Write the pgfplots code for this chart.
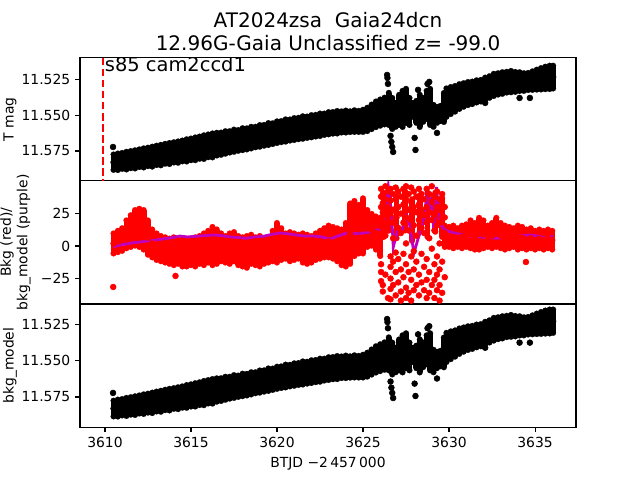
\documentclass[border=0pt]{standalone}
\usepackage{fontspec}
\setmainfont{DejaVu Sans}
\usepackage{pgfplots}
\usepackage{pgfplotstable}
\pgfplotsset{compat=1.18}
\definecolor{mplm}{rgb}{0.75,0,0.75}

% light curve band: centre mag and half spread
\pgfplotstableread{
x y e
3610.50 11.5829 0.0054
3610.75 11.5826 0.0058
3611.00 11.5820 0.0056
3611.25 11.5818 0.0062
3611.50 11.5811 0.0060
3611.75 11.5809 0.0064
3612.00 11.5801 0.0062
3612.25 11.5799 0.0067
3612.50 11.5792 0.0065
3612.75 11.5790 0.0070
3613.00 11.5781 0.0068
3613.25 11.5779 0.0072
3613.50 11.5770 0.0070
3613.75 11.5768 0.0074
3614.00 11.5760 0.0071
3614.25 11.5758 0.0075
3614.50 11.5750 0.0073
3614.75 11.5746 0.0078
3615.00 11.5739 0.0076
3615.25 11.5735 0.0080
3615.50 11.5727 0.0078
3615.75 11.5723 0.0083
3616.00 11.5714 0.0080
3616.25 11.5711 0.0084
3616.50 11.5702 0.0080
3616.75 11.5699 0.0078
3617.00 11.5690 0.0079
3617.25 11.5686 0.0075
3617.50 11.5678 0.0078
3617.75 11.5676 0.0073
3618.00 11.5667 0.0077
3618.25 11.5665 0.0074
3618.50 11.5656 0.0076
3618.75 11.5652 0.0072
3619.00 11.5644 0.0076
3619.25 11.5640 0.0073
3619.50 11.5631 0.0077
3619.75 11.5628 0.0073
3620.00 11.5618 0.0076
3620.25 11.5614 0.0074
3620.50 11.5606 0.0078
3620.75 11.5603 0.0074
3621.00 11.5596 0.0077
3621.25 11.5592 0.0075
3621.50 11.5585 0.0079
3621.75 11.5583 0.0075
3622.00 11.5576 0.0078
3622.25 11.5572 0.0076
3622.50 11.5566 0.0079
3622.75 11.5562 0.0075
3623.00 11.5555 0.0078
3623.25 11.5552 0.0076
3623.50 11.5548 0.0079
3623.75 11.5546 0.0074
3624.00 11.5543 0.0077
3624.25 11.5544 0.0073
3624.50 11.5540 0.0076
3624.75 11.5542 0.0074
3625.00 11.5538 0.0078
3625.25 11.5528 0.0082
3625.50 11.5510 0.0086
3625.75 11.5492 0.0090
3626.00 11.5480 0.0092
3626.25 11.5469 0.0094
3626.50 11.5454 0.0113
3626.70 11.5486 0.0109
3626.90 11.5496 0.0084
3627.10 11.5461 0.0106
3627.30 11.5454 0.0127
3627.50 11.5433 0.0120
3627.70 11.5472 0.0095
3627.90 11.5461 0.0049
3628.10 11.5475 0.0077
3628.30 11.5468 0.0113
3628.50 11.5461 0.0084
3628.70 11.5426 0.0099
3628.90 11.5440 0.0127
3629.10 11.5503 0.0077
3629.30 11.5496 0.0056
3629.50 11.5486 0.0053
3629.70 11.5444 0.0102
3629.85 11.5410 0.0100
3630.10 11.5395 0.0095
3630.35 11.5383 0.0090
3630.60 11.5367 0.0087
3630.85 11.5356 0.0083
3631.10 11.5346 0.0081
3631.35 11.5341 0.0079
3631.60 11.5331 0.0078
3631.85 11.5326 0.0076
3632.10 11.5312 0.0078
3632.35 11.5300 0.0076
3632.60 11.5285 0.0078
3632.85 11.5278 0.0075
3633.10 11.5272 0.0076
3633.35 11.5266 0.0073
3633.60 11.5262 0.0075
3633.85 11.5264 0.0070
3634.10 11.5262 0.0066
3634.35 11.5265 0.0062
3634.60 11.5261 0.0060
3634.85 11.5255 0.0065
3635.10 11.5248 0.0070
3635.35 11.5242 0.0075
3635.60 11.5236 0.0079
3635.85 11.5232 0.0082
3636.05 11.5230 0.0080
}\lcband

\pgfplotstableread{
x y
3610.47 11.5722
3626.40 11.5215
3626.42 11.5236
3626.45 11.5278
3626.60 11.5644
3626.65 11.5686
3626.70 11.5722
3626.75 11.5757
3628.00 11.5658
3628.05 11.5743
3628.20 11.5320
3628.75 11.5278
3628.85 11.5264
3629.30 11.5623
3632.10 11.5412
3634.10 11.5377
3634.70 11.5377
}\lcout

% background flux band
\pgfplotstableread{
x y e
3610.50 2.0 7.7
3610.75 3.5 8.2
3611.00 5.0 8.7
3611.25 9.0 10.7
3611.50 11.5 12.2
3611.75 14.0 13.7
3612.00 14.0 14.7
3612.25 12.5 15.2
3612.50 6.5 13.2
3612.75 2.0 10.7
3613.00 -0.5 10.2
3613.25 -2.0 9.7
3613.50 -3.0 9.7
3613.75 -4.0 9.7
3614.00 -4.0 10.7
3614.25 -4.5 9.2
3614.50 -5.0 10.7
3614.75 -5.5 10.2
3615.00 -4.5 10.2
3615.25 -4.5 11.2
3615.50 -3.0 10.7
3615.75 -2.5 12.2
3616.00 -0.5 12.2
3616.25 0.0 14.7
3616.50 -0.5 13.2
3616.75 -1.0 10.7
3617.00 -2.5 10.2
3617.25 -2.0 11.7
3617.50 -0.5 11.2
3617.75 -3.5 11.2
3618.00 -4.5 11.2
3618.25 -4.5 12.2
3618.50 -2.5 11.2
3618.75 -4.0 10.7
3619.00 -4.0 11.7
3619.25 -4.0 9.7
3619.50 -3.0 9.7
3619.75 0.0 11.7
3620.00 2.5 15.2
3620.25 1.5 12.2
3620.50 0.0 9.7
3620.75 -0.5 11.2
3621.00 -0.5 10.2
3621.25 -0.5 9.2
3621.50 -1.5 11.2
3621.75 -2.5 11.2
3622.00 -2.5 10.2
3622.25 -0.5 10.2
3622.50 1.0 10.7
3622.75 2.5 11.2
3623.00 3.5 12.2
3623.25 2.5 12.2
3623.50 1.0 12.7
3623.75 -1.0 13.7
3624.00 1.0 16.7
3624.25 9.5 23.2
3624.50 13.5 21.2
3624.75 13.0 18.7
3625.00 15.5 21.2
3625.25 13.5 14.2
3625.50 12.5 12.2
3625.75 10.0 12.7
3626.00 6.0 13.7
3626.20 24.0 17.0
3626.50 26.0 14.0
3626.95 22.0 16.0
3627.45 27.0 15.0
3627.85 20.0 16.0
3628.30 25.0 14.0
3628.75 24.0 17.0
3629.20 26.0 15.0
3629.60 22.0 15.0
3629.75 7.5 8.2
3630.00 7.0 7.7
3630.25 7.0 8.7
3630.50 6.5 7.2
3630.75 7.0 8.7
3631.00 8.0 8.7
3631.25 9.0 10.7
3631.50 7.5 10.2
3631.75 9.5 12.2
3632.00 9.0 10.7
3632.25 7.5 8.2
3632.50 8.0 9.7
3632.75 10.5 11.2
3633.00 8.0 9.7
3633.25 6.5 9.2
3633.50 6.5 8.2
3633.75 6.5 7.2
3634.00 6.5 9.2
3634.25 6.5 8.2
3634.50 5.0 7.7
3634.75 6.0 7.7
3635.00 4.5 7.2
3635.25 5.5 7.2
3635.50 4.5 7.2
3635.75 5.5 7.2
3636.00 4.5 7.2
}\bkgband

\pgfplotstableread{
x y
3610.48 -31.5
3614.10 -23.0
3634.47 -12.3
3626.05 44
3626.05 38
3626.05 30
3626.05 22
3626.05 15
3626.05 -14
3626.05 -20
3626.05 -27
3626.15 40
3626.15 33
3626.15 26
3626.15 18
3626.15 -30
3626.15 -35
3626.30 46
3626.30 36
3626.30 28
3626.30 8
3626.30 -22
3626.45 42
3626.45 30
3626.45 20
3626.45 12
3626.45 -40
3626.60 44
3626.60 35
3626.60 25
3626.60 -8
3626.60 -16
3626.60 -25
3626.60 -33
3626.60 -41
3626.75 40
3626.75 28
3626.75 18
3626.75 6
3626.75 -12
3626.75 -30
3626.90 45
3626.90 36
3626.90 22
3626.90 -5
3626.90 -20
3626.90 -38
3627.05 42
3627.05 30
3627.05 14
3627.05 -10
3627.05 -28
3627.20 38
3627.20 25
3627.20 10
3627.20 -18
3627.20 -35
3627.20 -42
3627.35 44
3627.35 32
3627.35 18
3627.35 -6
3627.35 -24
3627.50 46
3627.50 36
3627.50 22
3627.50 2
3627.50 -14
3627.50 -32
3627.50 -40
3627.65 40
3627.65 28
3627.65 12
3627.65 -20
3627.65 -36
3627.80 45
3627.80 34
3627.80 20
3627.80 -8
3627.80 -26
3627.80 -42
3627.95 42
3627.95 30
3627.95 16
3627.95 -4
3627.95 -18
3627.95 -34
3628.10 38
3628.10 26
3628.10 8
3628.10 -12
3628.10 -30
3628.25 44
3628.25 32
3628.25 20
3628.25 -22
3628.25 -38
3628.40 40
3628.40 28
3628.40 14
3628.40 -6
3628.40 -28
3628.55 36
3628.55 24
3628.55 10
3628.55 -16
3628.55 -34
3628.70 44
3628.70 30
3628.70 18
3628.70 -10
3628.70 -26
3628.70 -40
3628.85 40
3628.85 26
3628.85 6
3628.85 -20
3628.85 -36
3629.00 46
3629.00 34
3629.00 20
3629.00 -2
3629.00 -30
3629.15 38
3629.15 24
3629.15 12
3629.15 -14
3629.15 -26
3629.15 -40
3629.30 42
3629.30 30
3629.30 16
3629.30 -8
3629.30 -22
3629.30 -34
3629.45 36
3629.45 28
3629.45 18
3629.45 2
3629.45 -18
3629.45 -30
3629.45 -42
3629.60 40
3629.60 32
3629.60 22
3629.60 -12
3629.60 -36
3629.75 30
3629.75 22
3629.75 10
3629.75 -24
}\bkgdots

\pgfplotstableread{
x y
3610.48 -0.5
3610.80 0.5
3611.20 1.5
3611.60 2.5
3612.00 3.0
3612.42 3.8
3612.90 4.5
3613.40 5.5
3613.90 6.5
3614.36 7.7
3614.80 7.0
3615.30 7.5
3615.80 8.0
3616.30 8.5
3616.80 8.0
3617.30 7.0
3617.80 6.5
3618.24 6.0
3618.70 7.0
3619.20 7.5
3619.70 9.0
3620.17 10.0
3620.60 9.5
3621.10 8.5
3621.60 7.7
3622.11 7.7
3622.60 7.0
3623.08 5.4
3623.50 7.5
3624.05 10.0
3624.50 9.5
3625.02 10.0
3625.50 11.0
3625.99 13.0
3626.28 25.0
3626.47 46.0
3626.66 25.0
3626.76 -0.8
3627.05 14.6
3627.24 10.8
3627.50 26.0
3627.69 17.7
3627.96 -5.4
3628.21 6.0
3628.50 17.7
3628.70 37.7
3628.83 22.0
3628.93 37.7
3629.12 12.3
3629.28 45.4
3629.43 17.7
3629.76 12.3
3630.30 10.0
3630.83 8.5
3631.30 7.5
3631.80 7.0
3632.30 6.5
3632.76 6.0
3633.20 6.5
3633.73 7.0
3634.20 8.0
3634.70 8.5
3635.20 7.5
3635.67 6.0
3636.05 7.7
}\bkgmodel

\pgfplotsset{
  panel/.style={
    scale only axis, width=357.12pt, height=88.704pt,
    xmin=3608.55, xmax=3637.38,
    axis line style={line width=0.8pt},
    tick align=outside, major tick length=3.5pt,
    every tick/.style={line width=0.8pt, black},
    ytick pos=left, xtick pos=bottom,
    tick label style={font=\fontsize{10}{12}\selectfont},
    label style={font=\fontsize{10}{12}\selectfont},
    /pgf/number format/assume math mode=true,
    every axis y label/.style={at={(axis description cs:-0.141,0.5)},
      rotate=90, anchor=center, align=center},
  },
  magticks/.style={
    y dir=reverse, ytick={11.525,11.550,11.575},
    yticklabel style={/pgf/number format/.cd, fixed, fixed zerofill, precision=3},
  },
  band/.style={only marks, mark=*, mark size=2.1pt, #1,
    error bars/.cd, y dir=both, y explicit,
    error bar style={line width=4.2pt, #1},
    error mark=*, error mark options={mark size=2.1pt, line width=0.1pt, #1, fill=#1}},
}

\begin{document}
\begin{tikzpicture}
% bottom panel
\begin{axis}[panel, magticks, at={(0,0)}, anchor=south west,
  ymin=11.5112, ymax=11.5957,
  xtick={3610,3615,3620,3625,3630,3635},
  xticklabel style={/pgf/number format/.cd, set thousands separator={}},
  xlabel={BTJD −2\,457\,000},
  ylabel={bkg\_model}]
\addplot[band=black] table[x=x, y=y, y error=e] {\lcband};
\addplot[only marks, mark=*, mark size=2.1pt, black] table[x=x, y=y] {\lcout};
\end{axis}
% middle panel
\begin{axis}[panel, at={(0,88.704pt)}, anchor=south west,
  ymin=-44.6, ymax=50.2, xtick=\empty,
  ytick={-25,0,25}, yticklabels={−25,0,25},
  ylabel={Bkg (red)/\\bkg\_model (purple)},
  every axis y label/.append style={at={(axis description cs:-0.130,0.5)}}]
\addplot[band=red] table[x=x, y=y, y error=e] {\bkgband};
\addplot[only marks, mark=*, mark size=2.1pt, red] table[x=x, y=y] {\bkgdots};
\addplot[mplm, line width=2pt] table[x=x, y=y] {\bkgmodel};
\end{axis}
% top panel
\begin{axis}[panel, magticks, at={(0,177.408pt)}, anchor=south west,
  ymin=11.5093, ymax=11.5960, xtick=\empty,
  ylabel={T mag},
  title={AT2024zsa\ \ Gaia24dcn\\12.96G-Gaia Unclassified z= -99.0},
  title style={at={(0.5,1)}, anchor=south, yshift=-1pt, inner sep=0pt,
    align=center, font=\fontsize{14.4}{16}\selectfont}]
\addplot[band=black] table[x=x, y=y, y error=e] {\lcband};
\addplot[only marks, mark=*, mark size=2.1pt, black] table[x=x, y=y] {\lcout};
\addplot[red, line width=1.5pt, dash pattern=on 5.55pt off 2.4pt] coordinates {(3609.88,11.5093) (3609.88,11.5960)};
\node[anchor=base west, inner sep=0pt, font=\fontsize{14}{16}\selectfont] at (axis cs:3609.98,11.5194) {s85 cam2ccd1};
\end{axis}
\pgfresetboundingbox
\path[use as bounding box] (-57.6pt,-38.016pt) rectangle (403.2pt,307.584pt);
\end{tikzpicture}
\end{document}
